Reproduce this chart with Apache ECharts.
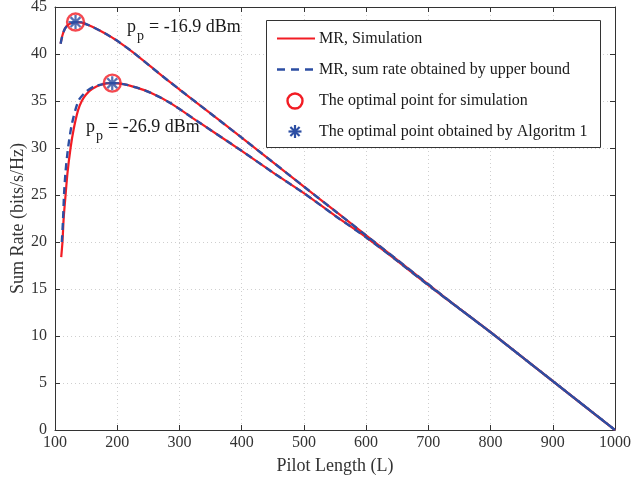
<!DOCTYPE html>
<html>
<head>
<meta charset="utf-8">
<script src="https://cdn.jsdelivr.net/npm/echarts@6/dist/echarts.min.js"></script>
<style>
  html, body { margin: 0; padding: 0; background: #fff; }
  #chart { width: 633px; height: 484px; }
</style>
</head>
<body>
<div id="chart"></div>
<script>
// Pilot length axis and tick values
const xTicks = [100, 200, 300, 400, 500, 600, 700, 800, 900, 1000];
const yTicks = [0, 5, 10, 15, 20, 25, 30, 35, 40, 45];

// p_p = -16.9 dBm : sum rate vs pilot length
const highL = [109, 112, 116, 122, 133, 145, 160, 180, 200, 225, 253, 285, 330, 400, 450, 500, 550, 600, 650, 700, 750, 800, 850, 900, 950, 1000];
const highSim = [41.1, 42.0, 42.7, 43.15, 43.4, 43.3, 42.9, 42.2, 41.4, 40.2, 38.7, 37.0, 34.7, 31.1, 28.5, 25.9, 23.3, 20.7, 18.1, 15.5, 12.9, 10.4, 7.8, 5.2, 2.6, 0];
const highBound = [41.1, 42.0, 42.7, 43.15, 43.4, 43.3, 42.9, 42.2, 41.4, 40.2, 38.7, 37.0, 34.7, 31.1, 28.5, 25.9, 23.3, 20.7, 18.1, 15.5, 12.9, 10.4, 7.8, 5.2, 2.6, 0];

// p_p = -26.9 dBm : simulation
const lowSimL = [110, 112, 114, 117, 120, 125, 130, 137, 143, 150, 160, 175, 192, 210, 230, 253, 285, 330, 400, 450, 500, 550, 600, 650, 700, 750, 800, 850, 900, 950, 1000];
const lowSim = [18.4, 20.0, 22.6, 25.0, 27.3, 30.0, 32.0, 34.0, 35.0, 35.7, 36.3, 36.75, 36.9, 36.8, 36.45, 35.9, 34.8, 32.8, 29.7, 27.4, 25.2, 22.8, 20.5, 18.0, 15.4, 12.9, 10.4, 7.8, 5.2, 2.6, 0];

// p_p = -26.9 dBm : upper bound
const lowBoundL = [111, 113, 114.5, 117, 121, 127, 137.5, 150, 165, 192, 210, 230, 253, 285, 330, 400, 450, 500, 550, 600, 650, 700, 750, 800, 850, 900, 950, 1000];
const lowBound = [20.0, 22.5, 25.0, 27.5, 30.0, 32.5, 35.0, 36.0, 36.6, 36.9, 36.8, 36.45, 35.9, 34.8, 32.8, 29.7, 27.4, 25.2, 22.8, 20.5, 18.0, 15.4, 12.9, 10.4, 7.8, 5.2, 2.6, 0];

// Optimal pilot lengths
const optL = [133, 192];
const optRate = [43.4, 36.9];

const pair = (xs, ys) => xs.map((x, i) => [x, ys[i]]);

const RED = '#f21c24';
const BLUE = '#2c4ea3';
const AXIS = '#333333';
const TEXT = '#1a1a1a';
const FONT = '"Liberation Serif", "Times New Roman", serif';

// eight-spoke asterisk marker
const ASTERISK = 'path://M0 42 L100 42 L100 58 L0 58 Z M42 0 L58 0 L58 100 L42 100 Z ' +
  'M20.3 8.9 L91.1 79.7 L79.7 91.1 L8.9 20.3 Z M91.1 20.3 L20.3 91.1 L8.9 79.7 L79.7 8.9 Z';

const chart = echarts.init(document.getElementById('chart'), null, { renderer: 'canvas' });

const baseX = {
  type: 'value', min: 100, max: 1000, interval: 100,
  axisLine: { show: true, onZero: false, lineStyle: { color: AXIS, width: 1 } },
  axisTick: { show: true, inside: true, length: 5, lineStyle: { color: AXIS } }
};
const baseY = {
  type: 'value', min: 0, max: 45, interval: 5,
  axisLine: { show: true, onZero: false, lineStyle: { color: AXIS, width: 1 } },
  axisTick: { show: true, inside: true, length: 5, lineStyle: { color: AXIS } }
};

function label(x, y, text, size, z) {
  return { type: 'text', x: x, y: y, z: z || 20,
    style: { text: text, fontFamily: FONT, fontSize: size, fill: TEXT, verticalAlign: 'middle' } };
}

function legendAsterisk(cx, cy, r) {
  const d = r * Math.SQRT1_2;
  const seg = (x1, y1, x2, y2) => ({ type: 'line', z: 32, shape: { x1: x1, y1: y1, x2: x2, y2: y2 },
    style: { stroke: BLUE, lineWidth: 2.2 } });
  return [
    seg(cx - r, cy, cx + r, cy), seg(cx, cy - r, cx, cy + r),
    seg(cx - d, cy - d, cx + d, cy + d), seg(cx - d, cy + d, cx + d, cy - d)
  ];
}

const lineCommon = { smooth: 0.25, showSymbol: false };

chart.setOption({
  animation: false,
  backgroundColor: '#ffffff',
  textStyle: { fontFamily: FONT },
  grid: { left: 55, right: 18, top: 7, bottom: 54, containLabel: false, outerBoundsMode: 'none' },
  xAxis: [
    Object.assign({}, baseX, {
      position: 'bottom',
      name: 'Pilot Length (L)', nameLocation: 'middle', nameGap: 27, nameMoveOverlap: false,
      nameTextStyle: { fontFamily: FONT, fontSize: 18, color: AXIS },
      axisLabel: { show: true, margin: 5, fontFamily: FONT, fontSize: 16, color: AXIS,
        formatter: v => xTicks.includes(v) ? String(v) : '' },
      splitLine: { show: true, lineStyle: { type: [1, 3], color: '#cfcfcf', width: 1 } }
    }),
    Object.assign({}, baseX, {
      position: 'top', axisLabel: { show: false }, splitLine: { show: false }
    })
  ],
  yAxis: [
    Object.assign({}, baseY, {
      position: 'left',
      name: 'Sum Rate (bits/s/Hz)', nameLocation: 'middle', nameGap: 28, nameMoveOverlap: false,
      nameTextStyle: { fontFamily: FONT, fontSize: 18, color: AXIS },
      axisLabel: { show: true, margin: 8, fontFamily: FONT, fontSize: 16, color: AXIS,
        formatter: v => yTicks.includes(v) ? String(v) : '' },
      splitLine: { show: true, lineStyle: { type: [1, 3], color: '#cfcfcf', width: 1 } }
    }),
    Object.assign({}, baseY, {
      position: 'right', axisLabel: { show: false }, splitLine: { show: false }
    })
  ],
  series: [
    Object.assign({ name: 'MR, Simulation', type: 'line', data: pair(highL, highSim),
      lineStyle: { color: RED, width: 2.2 }, z: 2 }, lineCommon),
    Object.assign({ name: 'MR, Simulation', type: 'line', data: pair(lowSimL, lowSim),
      lineStyle: { color: RED, width: 2.2 }, z: 2 }, lineCommon),
    Object.assign({ name: 'MR, sum rate obtained by upper bound', type: 'line', data: pair(highL, highBound),
      lineStyle: { color: BLUE, width: 2.4, type: [7, 5] }, z: 3 }, lineCommon),
    Object.assign({ name: 'MR, sum rate obtained by upper bound', type: 'line', data: pair(lowBoundL, lowBound),
      lineStyle: { color: BLUE, width: 2.4, type: [7, 5] }, z: 3 }, lineCommon),
    { name: 'The optimal point for simulation', type: 'scatter', data: pair(optL, optRate),
      symbol: 'circle', symbolSize: 17,
      itemStyle: { color: 'rgba(0,0,0,0)', borderColor: RED, borderWidth: 2.4 }, z: 4 },
    { name: 'The optimal point obtained by Algoritm 1', type: 'scatter', data: pair(optL, optRate),
      symbol: ASTERISK, symbolSize: 14, itemStyle: { color: BLUE }, z: 5 }
  ],
  graphic: [
    // power annotations
    label(127, 27, 'p', 18), label(137, 36, 'p', 14), label(149, 27, '= -16.9 dBm', 18),
    label(86, 127, 'p', 18), label(96, 136, 'p', 14), label(108, 127, '= -26.9 dBm', 18),
    // legend
    { type: 'rect', z: 30, shape: { x: 266.5, y: 20.5, width: 334, height: 127 },
      style: { fill: '#ffffff', stroke: AXIS, lineWidth: 1 } },
    { type: 'line', z: 31, shape: { x1: 277, y1: 38.5, x2: 315, y2: 38.5 }, style: { stroke: RED, lineWidth: 2.2 } },
    { type: 'line', z: 31, shape: { x1: 277, y1: 69.5, x2: 315, y2: 69.5 }, style: { stroke: BLUE, lineWidth: 2.4, lineDash: [8, 6] } },
    { type: 'circle', z: 31, shape: { cx: 295, cy: 101, r: 7.5 }, style: { fill: 'none', stroke: RED, lineWidth: 2.4 } }
  ].concat(legendAsterisk(295, 131.5, 6.5)).concat([
    label(319, 38.5, 'MR, Simulation', 16, 31),
    label(319, 69.5, 'MR, sum rate obtained by upper bound', 16, 31),
    label(319, 101, 'The optimal point for simulation', 16, 31),
    label(319, 131.5, 'The optimal point obtained by Algoritm 1', 16, 31)
  ])
});
</script>
</body>
</html>
